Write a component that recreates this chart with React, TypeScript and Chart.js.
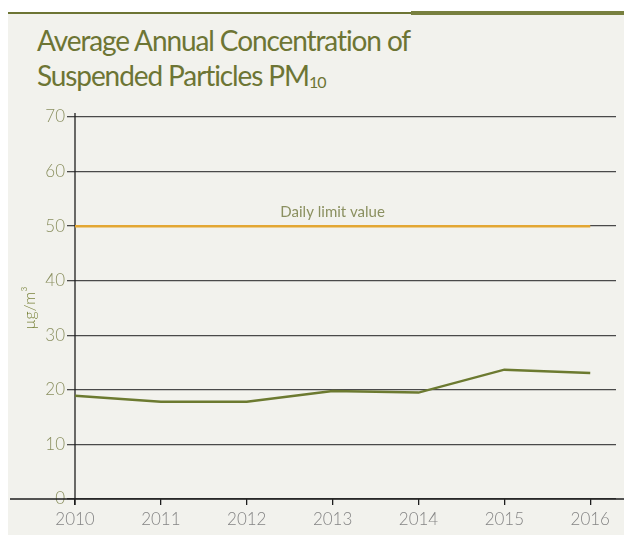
import React, { useEffect, useRef } from "react";
import { Chart, registerables } from "chart.js";

Chart.register(...registerables);

const years = [2010, 2011, 2012, 2013, 2014, 2015, 2016];
const pm10 = [18.9, 17.8, 17.8, 19.8, 19.5, 23.7, 23.1];
const limitValue = 50;
const limitLabel = "Daily limit value";
const yTicks = [0, 10, 20, 30, 40, 50, 60, 70];

const OLIVE = "#6d7534";
const TICK_OLIVE = "#8b9060";
const FONT = "Lato, 'Open Sans', sans-serif";

const overlayPlugin = {
  id: "overlay",
  beforeDatasetsDraw(chart: any) {
    const { ctx, scales } = chart;
    const x = scales.x;
    const y = scales.y;
    ctx.save();
    ctx.strokeStyle = "#1e1e1e";
    ctx.lineWidth = 1.3;
    const y0 = y.getPixelForValue(0);
    ctx.beginPath();
    ctx.moveTo(10, y0);
    ctx.lineTo(624, y0);
    ctx.stroke();
    const x0 = x.getPixelForValue(years[0]);
    ctx.beginPath();
    ctx.moveTo(x0, y.getPixelForValue(70) - 4);
    ctx.lineTo(x0, y0 + 6);
    ctx.stroke();
    const xm = (x.getPixelForValue(years[0]) + x.getPixelForValue(years[years.length - 1])) / 2;
    ctx.fillStyle = TICK_OLIVE;
    ctx.font = `15px ${FONT}`;
    ctx.textAlign = "center";
    ctx.textBaseline = "alphabetic";
    ctx.fillText(limitLabel, xm, y.getPixelForValue(limitValue) - 9);
    ctx.restore();
  },
};

export default function App() {
  const ref = useRef<HTMLCanvasElement | null>(null);
  useEffect(() => {
    if (!ref.current) return;
    const chart = new Chart(ref.current, {
      type: "line",
      data: {
        datasets: [
          {
            label: "limit",
            data: years.map((yr) => ({ x: yr, y: limitValue })),
            borderColor: "#e3a733",
            borderWidth: 2.5,
            pointRadius: 0,
          },
          {
            label: "PM10",
            data: years.map((yr, i) => ({ x: yr, y: pm10[i] })),
            borderColor: "#6c7a30",
            borderWidth: 2.5,
            pointRadius: 0,
            tension: 0,
          },
        ],
      },
      options: {
        animation: false,
        responsive: false,
        maintainAspectRatio: false,
        layout: { padding: { top: 117, right: 8, bottom: 0, left: 0 } },
        plugins: {
          legend: { display: false },
          tooltip: { enabled: false },
          title: { display: false },
        },
        scales: {
          x: {
            type: "linear",
            min: years[0],
            max: 2016.3,
            afterBuildTicks: (scale: any) => {
              scale.ticks = years.map((v) => ({ value: v }));
            },
            afterFit: (scale: any) => {
              scale.height = 42;
            },
            grid: {
              drawOnChartArea: false,
              drawTicks: true,
              tickLength: 6,
              color: "#1e1e1e",
              lineWidth: 1.3,
            },
            border: { display: false },
            ticks: {
              autoSkip: false,
              maxRotation: 0,
              padding: 4,
              color: "#858585",
              font: { family: FONT, size: 17, weight: "300" },
              callback: (v: any) => String(v),
            },
          },
          y: {
            type: "linear",
            min: 0,
            max: 70,
            afterBuildTicks: (scale: any) => {
              scale.ticks = yTicks.map((v) => ({ value: v }));
            },
            afterFit: (scale: any) => {
              scale.width = 75;
            },
            grid: {
              drawTicks: true,
              tickLength: 8,
              color: "#4a4a4a",
              lineWidth: 1.3,
            },
            border: { display: false },
            ticks: {
              padding: 2,
              color: TICK_OLIVE,
              font: { family: FONT, size: 17, weight: "300" },
            },
            title: {
              display: true,
              text: "µg/m³",
              color: "#7d8640",
              font: { family: FONT, size: 16, weight: "300" },
              padding: { top: 20, bottom: 0 },
            },
          },
        },
      },
      plugins: [overlayPlugin],
    } as any);
    return () => chart.destroy();
  }, []);

  return (
    <div style={{ position: "fixed", left: 0, top: 0, width: 624, height: 541, background: "#ffffff" }}>
      <div style={{ position: "absolute", left: 8, top: 13, width: 616, height: 522, background: "#f2f2ed" }} />
      <div style={{ position: "absolute", left: 8, top: 12, width: 403, height: 1.5, background: OLIVE }} />
      <div style={{ position: "absolute", left: 411, top: 11, width: 213, height: 4, background: "#78803f" }} />
      <div
        style={{
          position: "absolute",
          left: 37,
          top: 23,
          color: OLIVE,
          fontFamily: FONT,
          fontSize: 28,
          lineHeight: "35px",
          letterSpacing: "-1.1px",
          whiteSpace: "nowrap",
        }}
      >
        <div>Average Annual Concentration of</div>
        <div>
          Suspended Particles PM<sub style={{ fontSize: 16, verticalAlign: "-2px", letterSpacing: "-1px" }}>10</sub>
        </div>
      </div>
      <canvas ref={ref} width={624} height={541} style={{ position: "absolute", left: 0, top: 0 }} />
    </div>
  );
}
